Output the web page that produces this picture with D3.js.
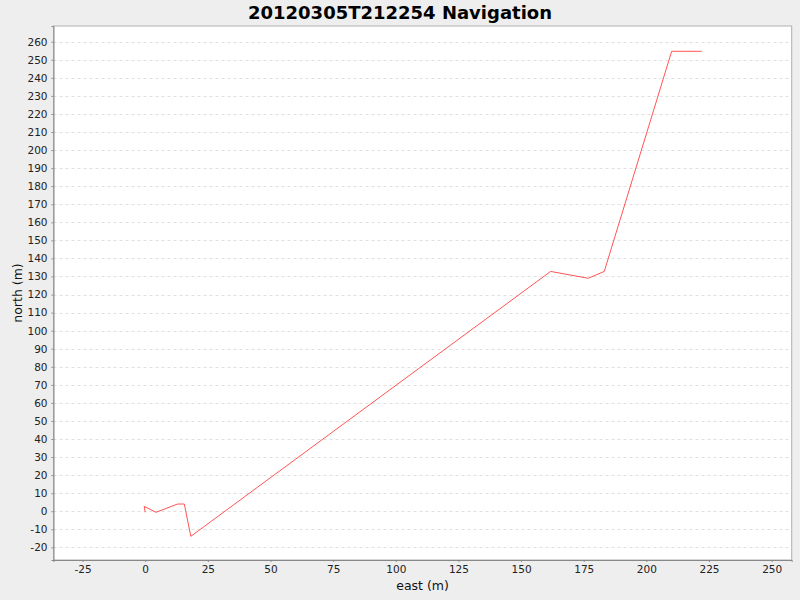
<!DOCTYPE html>
<html>
<head>
<meta charset="utf-8">
<script src="https://cdn.jsdelivr.net/npm/d3@7"></script>
<style>
html,body{margin:0;padding:0;background:#EEEEEE;}
svg{display:block;}
text{font-family:"DejaVu Sans",sans-serif;}
</style>
</head>
<body>
<svg id="chart" width="800" height="600"></svg>
<script>
const title = "20120305T212254 Navigation";
const xLabel = "east (m)";
const yLabel = "north (m)";
const eastValues  = [0, -0.4, 4.3, 12.9, 15.6, 18.2, 161.8, 176.8, 183.2, 210.1, 222.1];
const northValues = [-0.6, 2.7, -0.6, 4.0, 4.0, -13.9, 132.8, 129.0, 132.8, 254.7, 254.7];
const xTicks = [-25, 0, 25, 50, 75, 100, 125, 150, 175, 200, 225, 250];
const yTicks = d3.range(-20, 261, 10);
const xDomain = [-36.6, 258.0];
const yDomain = [-27.0, 268.7];

const svg = d3.select("#chart");
const plot = {left: 53.5, top: 26, right: 791.7, bottom: 560};

const x = d3.scaleLinear().domain(xDomain).range([plot.left, plot.right]);
const y = d3.scaleLinear().domain(yDomain).range([plot.bottom, plot.top]);

svg.append("rect").attr("width", 800).attr("height", 600).attr("fill", "#EEEEEE");

svg.append("rect")
  .attr("x", plot.left).attr("y", plot.top)
  .attr("width", plot.right - plot.left).attr("height", plot.bottom - plot.top)
  .attr("fill", "#FFFFFF").attr("stroke", "#B0B0B0").attr("stroke-width", 1);

// gridlines
const grid = svg.append("g");
grid.selectAll("line.gy").data(yTicks).join("line")
  .attr("x1", plot.left).attr("x2", plot.right)
  .attr("y1", d => Math.round(y(d)) + 0.5).attr("y2", d => Math.round(y(d)) + 0.5)
  .attr("stroke", "#D8D8D8").attr("stroke-width", 0.8).attr("stroke-dasharray", "3,3");

// clip
svg.append("clipPath").attr("id", "clip").append("rect")
  .attr("x", plot.left).attr("y", plot.top)
  .attr("width", plot.right - plot.left).attr("height", plot.bottom - plot.top);

const pts = eastValues.map((e, i) => [e, northValues[i]]);
svg.append("path")
  .attr("clip-path", "url(#clip)")
  .attr("d", d3.line().x(d => x(d[0])).y(d => y(d[1]))(pts))
  .attr("fill", "none").attr("stroke", "#FF5555").attr("stroke-width", 1);

const fmt = d => String(d);

// axes
const xAxis = d3.axisBottom(x).tickValues(xTicks).tickSize(2).tickPadding(4).tickFormat(fmt);
const gx = svg.append("g").attr("transform", `translate(0,${plot.bottom})`).call(xAxis);
gx.select(".domain").attr("stroke", "#888888");
gx.selectAll(".tick line").attr("stroke", "#888888");
gx.selectAll("text").attr("font-size", 10.5).attr("fill", "#222222")
  .attr("font-family", "'DejaVu Sans', sans-serif");

const yAxis = d3.axisLeft(y).tickValues(yTicks).tickSize(2).tickPadding(4).tickFormat(fmt);
const gy = svg.append("g").attr("transform", `translate(${plot.left},0)`).call(yAxis);
gy.select(".domain").attr("stroke", "#888888");
gy.selectAll(".tick line").attr("stroke", "#888888");
gy.selectAll("text").attr("font-size", 10.5).attr("fill", "#222222")
  .attr("font-family", "'DejaVu Sans', sans-serif");

// labels
svg.append("text").attr("x", (plot.left + plot.right) / 2).attr("y", 590)
  .attr("text-anchor", "middle").attr("font-size", 12.5).attr("fill", "#111").text(xLabel);
svg.append("text").attr("transform", `translate(22,${(plot.top + plot.bottom) / 2}) rotate(-90)`)
  .attr("text-anchor", "middle").attr("font-size", 12.5).attr("fill", "#111").text(yLabel);

svg.append("text").attr("x", 400).attr("y", 19)
  .attr("text-anchor", "middle").attr("font-size", 18).attr("font-weight", "bold")
  .attr("fill", "#000").text(title);
</script>
</body>
</html>
